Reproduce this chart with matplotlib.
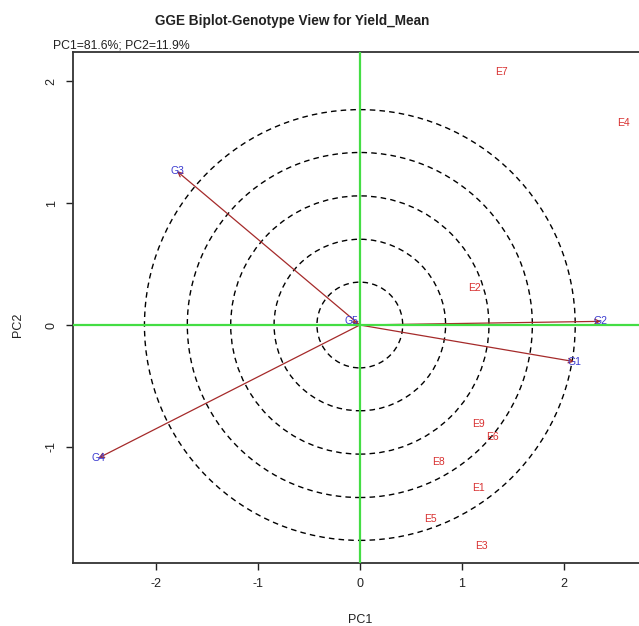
import matplotlib
matplotlib.use("Agg")
import matplotlib.pyplot as plt
from matplotlib.patches import Ellipse

plt.rcParams['font.family'] = ['Liberation Sans', 'DejaVu Sans']
plt.rcParams['axes.unicode_minus'] = False

# genotype scores (PC1, PC2)
gen_names = ['G1', 'G2', 'G3', 'G4', 'G5']
gen_pc1 = [2.10, 2.36, -1.79, -2.56, -0.08]
gen_pc2 = [-0.30, 0.03, 1.26, -1.09, 0.03]

# environment scores (PC1, PC2)
env_names = ['E1', 'E2', 'E3', 'E4', 'E5', 'E6', 'E7', 'E8', 'E9']
env_pc1 = [1.16, 1.12, 1.19, 2.58, 0.69, 1.30, 1.39, 0.77, 1.16]
env_pc2 = [-1.34, 0.30, -1.81, 1.66, -1.59, -0.92, 2.07, -1.12, -0.81]

ring_radii = [0.42, 0.84, 1.265, 1.69, 2.11]

title = "GGE Biplot-Genotype View for Yield_Mean"
subtitle = "PC1=81.6%; PC2=11.9%"

W, H = 639, 626
fig = plt.figure(figsize=(W / 100, H / 100), dpi=100)
ax = fig.add_axes([73 / W, (H - 563) / H, 1 - 73 / W, (563 - 52) / H])

xlim = (-2.81, 2.735)
ylim = (-1.951, 2.238)
ax.set_xlim(*xlim)
ax.set_ylim(*ylim)

# circles are round on screen, so squash them in data units
ax_w = (1 - 73 / W) * W
ax_h = (563 - 52)
px_x = ax_w / (xlim[1] - xlim[0])
px_y = ax_h / (ylim[1] - ylim[0])
yscale = px_x / px_y

for r in ring_radii:
    ax.add_patch(Ellipse((0, 0), 2 * r, 2 * r * yscale, fill=False,
                         ec='black', lw=1.0, ls=(0, (4, 3)), zorder=2))

for x, y in zip(gen_pc1, gen_pc2):
    ax.annotate("", xy=(x, y), xytext=(0, 0),
                arrowprops=dict(arrowstyle='->', color='#a52a2a', lw=0.9,
                                mutation_scale=8, shrinkA=0, shrinkB=0),
                zorder=3)

ax.axhline(0, color='#44dd44', lw=1.6, zorder=4)
ax.axvline(0, color='#44dd44', lw=1.6, zorder=4)

for name, x, y in zip(gen_names, gen_pc1, gen_pc2):
    ax.text(x, y, name, color='#3a3ad0', fontsize=7.5, ha='center', va='center', zorder=5)

for name, x, y in zip(env_names, env_pc1, env_pc2):
    ax.text(x, y, name, color='#d83030', fontsize=7.5, ha='center', va='center', zorder=5)

ax.set_xticks([-2, -1, 0, 1, 2])
ax.set_yticks([-1, 0, 1, 2])
ax.set_yticklabels(['-1', '0', '1', '2'], rotation=90, va='center')
ax.tick_params(length=5, width=1, labelsize=9, pad=6, colors='#222222')

for side in ['left', 'bottom', 'top']:
    ax.spines[side].set_linewidth(1.3)
    ax.spines[side].set_color('#333333')
ax.spines['right'].set_visible(False)

fig.text(360 / W, 1 - 620 / H, "PC1", ha='center', va='center', fontsize=9, color='#222222')
fig.text(18 / W, 1 - 325 / H, "PC2", ha='center', va='center', fontsize=9,
         rotation=90, color='#222222')

fig.text(292 / W, 1 - 21 / H, title, ha='center', va='center', fontsize=9.8,
         fontweight='bold', color='#222222')
fig.text(53 / W, 1 - 45 / H, subtitle, ha='left', va='center', fontsize=8.8, color='#222222')

fig.savefig("out.png", dpi=100, facecolor='white')
